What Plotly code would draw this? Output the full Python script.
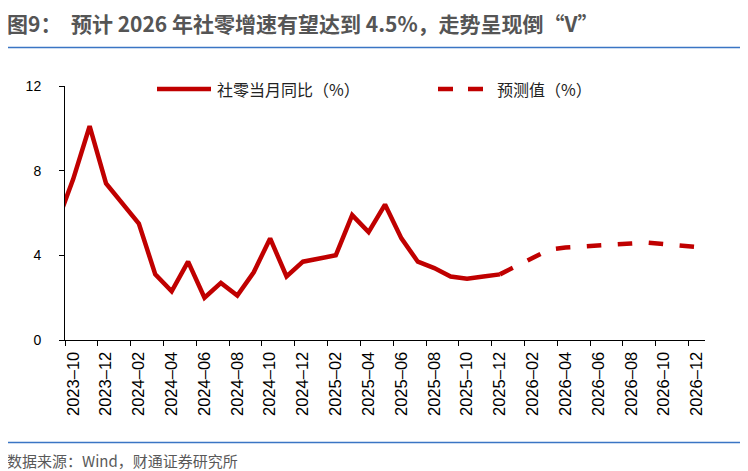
import plotly.graph_objects as go

# ---------------- data ----------------
months = [
    "2023-09", "2023-10", "2023-11", "2023-12",
    "2024-01", "2024-02", "2024-03", "2024-04", "2024-05", "2024-06",
    "2024-07", "2024-08", "2024-09", "2024-10", "2024-11", "2024-12",
    "2025-01", "2025-02", "2025-03", "2025-04", "2025-05", "2025-06",
    "2025-07", "2025-08", "2025-09", "2025-10", "2025-11", "2025-12",
    "2026-01", "2026-02", "2026-03", "2026-04", "2026-05", "2026-06",
    "2026-07", "2026-08", "2026-09", "2026-10", "2026-11", "2026-12",
]

# 社零当月同比（%） actual
actual = [
    5.5, 7.6, 10.1, 7.4,
    None, 5.5, 3.1, 2.3, 3.7, 2.0,
    2.7, 2.1, 3.2, 4.8, 3.0, 3.7,
    None, 4.0, 5.9, 5.1, 6.4, 4.8,
    3.7, 3.4, 3.0, 2.9, 3.0, 3.1,
    None, None, None, None, None, None,
    None, None, None, None, None, None,
]

# 预测值（%） forecast (starts from last actual point)
forecast = [
    None, None, None, None,
    None, None, None, None, None, None,
    None, None, None, None, None, None,
    None, None, None, None, None, None,
    None, None, None, None, None, 3.1,
    None, 3.88, 4.27, 4.37, 4.43, 4.49,
    4.53, 4.56, 4.60, 4.54, 4.46, 4.39,
]

tick_months = months[1::2]
tick_labels = [m.replace("-", "–") for m in tick_months]

name_actual = "社零当月同比（%）"
name_forecast = "预测值（%）"
title_text = "图9：  预计 2026 年社零增速有望达到 4.5%，走势呈现倒“V”"
source_text = "数据来源：Wind，财通证券研究所"

# ---------------- helpers ----------------
RED = "#C00000"
BLUE = "#3A75C4"
CJK = "Noto Sans CJK SC"
LAT = "Liberation Sans, Arial, sans-serif"

OFF = 8  # page body margin offset
W, H = 748 - OFF, 471 - OFF
L, R, T, B = 65 - OFF, 43, 86 - OFF, 131
PW, PH = W - L - R, H - T - B


def px(x):
    return (x - OFF - L) / PW


def py(y):
    return (H - B - (y - OFF)) / PH


def pos(i):
    return i - 1  # 2023-10 -> 0


xa = [pos(i) for i, v in enumerate(actual) if v is not None]
ya = [v for v in actual if v is not None]
xf = [pos(i) for i, v in enumerate(forecast) if v is not None]
yf = [v for v in forecast if v is not None]

tickvals = [pos(months.index(m)) for m in tick_months]
minor_vals = [v - 0.5 for v in tickvals]

fig = go.Figure()
fig.add_trace(go.Scatter(x=xa, y=ya, mode="lines", name=name_actual,
                         line=dict(color=RED, width=4.5), showlegend=False))
fig.add_trace(go.Scatter(x=xf, y=yf, mode="lines", name=name_forecast,
                         line=dict(color=RED, width=4.5, dash="14.5px,16.5px"),
                         showlegend=False))

fig.update_layout(
    width=W, height=H,
    margin=dict(l=L, r=R, t=T, b=B, pad=0),
    paper_bgcolor="white", plot_bgcolor="white",
    showlegend=False,
    font=dict(family=LAT, color="black"),
)

fig.update_xaxes(
    range=[-0.5, 38.5],
    tickmode="array", tickvals=tickvals, ticktext=tick_labels,
    tickangle=-90, ticks="", ticklabelstandoff=4,
    tickfont=dict(family=LAT, size=16.5, color="black"),
    showline=True, linecolor="black", linewidth=1.3,
    showgrid=False, zeroline=False,
    minor=dict(tickmode="array", tickvals=minor_vals, ticks="outside",
               ticklen=5, tickwidth=1, tickcolor="black", showgrid=False),
)
fig.update_yaxes(
    range=[0, 12], tickmode="array", tickvals=[0, 4, 8, 12],
    ticks="outside", ticklen=5, tickwidth=1, tickcolor="black",
    ticklabelstandoff=15,
    tickfont=dict(family=LAT, size=14, color="black"),
    showline=True, linecolor="black", linewidth=1,
    showgrid=False, zeroline=False,
)

shapes = [
    # title underline
    dict(type="line", xref="paper", yref="paper", x0=px(5), x1=px(744),
         y0=py(47.5), y1=py(47.5), line=dict(color=BLUE, width=1.5)),
    # footer line
    dict(type="line", xref="paper", yref="paper", x0=px(5), x1=px(744),
         y0=py(442.5), y1=py(442.5), line=dict(color=BLUE, width=1.5)),
    # legend samples
    dict(type="line", xref="paper", yref="paper", x0=px(157), x1=px(211),
         y0=py(89), y1=py(89), line=dict(color=RED, width=4.5)),
    dict(type="line", xref="paper", yref="paper", x0=px(438), x1=px(485),
         y0=py(89), y1=py(89), line=dict(color=RED, width=4.5, dash="15px,15px")),
]

annotations = [
    dict(text=f"<b>{title_text}</b>", xref="paper", yref="paper",
         x=px(5), y=py(23), xanchor="left", yanchor="middle", showarrow=False,
         font=dict(family=CJK, size=21, color="#555555")),
    dict(text=source_text, xref="paper", yref="paper",
         x=px(5), y=py(460), xanchor="left", yanchor="middle", showarrow=False,
         font=dict(family=CJK, size=15, color="#595959")),
    dict(text=name_actual, xref="paper", yref="paper",
         x=px(215), y=py(89), xanchor="left", yanchor="middle", showarrow=False,
         font=dict(family=CJK, size=16, color="#222222")),
    dict(text=name_forecast, xref="paper", yref="paper",
         x=px(495), y=py(89), xanchor="left", yanchor="middle", showarrow=False,
         font=dict(family=CJK, size=16, color="#222222")),
]

fig.update_layout(shapes=shapes, annotations=annotations)
fig.write_html("out.html")
